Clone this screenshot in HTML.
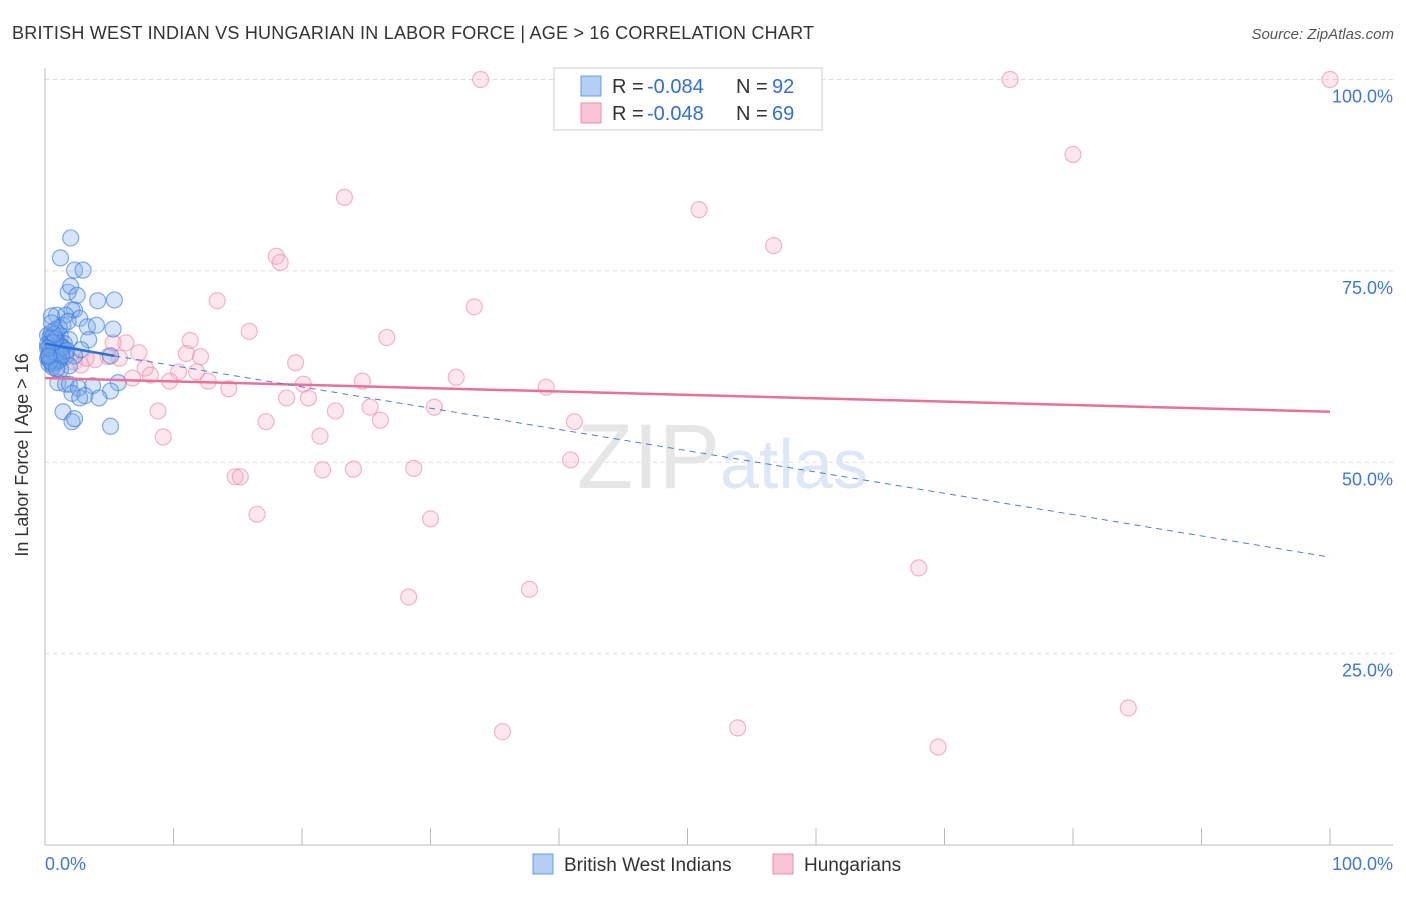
<!DOCTYPE html>
<html><head><meta charset="utf-8"><style>
body{margin:0;background:#fff;font-family:"Liberation Sans",sans-serif;}
svg text{font-family:"Liberation Sans",sans-serif;}
</style></head><body>
<svg width="1406" height="892" viewBox="0 0 1406 892">
<text x="12" y="39" font-size="18" fill="#333" textLength="802">BRITISH WEST INDIAN VS HUNGARIAN IN LABOR FORCE | AGE &gt; 16 CORRELATION CHART</text>
<text x="1394" y="39" font-size="15" fill="#555" text-anchor="end" font-style="italic">Source: ZipAtlas.com</text>
<g id="grid"></g>
<text x="720" y="488" font-size="92" fill="#e6e6e6" text-anchor="end" font-family="Liberation Serif">ZIP</text>
<text x="720" y="488" font-size="70" fill="#dde7f5">atlas</text>
<g id="marks"></g>
<text x="28" y="455" font-size="18" fill="#333" text-anchor="middle" transform="rotate(-90 28 455)">In Labor Force | Age &gt; 16</text>
<g>
<rect x="554" y="68" width="268" height="62" fill="#fff" stroke="#ccc"/>
<rect x="581" y="76" width="20" height="20" fill="#b3cff5" stroke="#6a9ee6"/>
<rect x="581" y="103" width="20" height="20" fill="#f9c3d5" stroke="#ec8fb0"/>
<text x="612" y="93" font-size="20" fill="#333">R =</text>
<text x="647" y="93" font-size="20" fill="#2f6fd6">-0.084</text>
<text x="736" y="93" font-size="20" fill="#333">N =</text>
<text x="772" y="93" font-size="20" fill="#2f6fd6">92</text>
<text x="612" y="120" font-size="20" fill="#333">R =</text>
<text x="647" y="120" font-size="20" fill="#2f6fd6">-0.048</text>
<text x="736" y="120" font-size="20" fill="#333">N =</text>
<text x="772" y="120" font-size="20" fill="#2f6fd6">69</text>
</g>
<g>
<rect x="533" y="854" width="20" height="20" fill="#b3cff5" stroke="#6a9ee6"/>
<text x="564" y="871" font-size="19" fill="#333">British West Indians</text>
<rect x="773" y="854" width="20" height="20" fill="#f9c3d5" stroke="#ec8fb0"/>
<text x="804" y="871" font-size="19" fill="#333">Hungarians</text>
</g>
</svg>
<script>
const yTicks=[25,50,75,100];
const yTickLabels=["25.0%","50.0%","75.0%","100.0%"];
const xTicks=[0,10,20,30,40,50,60,70,80,90,100];
const blueX=[2.0,1.2,2.3,2.96,1.8,2.0,2.5,4.1,5.4,2.3,2.1,0.9,1.6,2.7,0.5,1.4,3.3,4.0,5.3,0.8,1.2,3.4,1.9,0.2,0.5,1.0,0.4,1.3,0.8,1.6,2.3,5.1,0.4,0.9,1.3,0.6,1.9,1.2,1.0,1.6,1.9,3.7,5.7,2.6,5.1,2.1,3.1,2.7,4.2,1.4,2.1,2.3,5.1,0.3,0.6,1.0,0.5,0.8,1.5,0.2,0.7,1.1,0.4,0.9,0.3,1.2,0.6,0.5,0.8,0.3,1.0,0.7,0.4,0.2,0.6,1.4,0.9,0.3,0.5,1.7,0.8,0.4,1.1,0.6,0.2,1.3,0.7,0.5,0.9,0.3,2.8,1.8];
const blueY=[79.3,76.7,75.1,75.1,72.2,73.0,71.8,71.1,71.2,69.9,69.9,69.2,69.2,68.8,69.1,67.9,67.7,67.9,67.4,67.3,66.5,66.0,66.0,66.6,65.7,65.2,64.7,64.4,63.9,63.8,63.9,63.9,63.4,63.1,64.9,62.7,62.6,62.1,60.4,60.2,60.2,60.0,60.4,59.7,59.3,59.0,58.7,58.4,58.4,56.6,55.3,55.7,54.7,65.0,64.3,65.8,66.2,64.0,65.5,63.6,64.6,63.3,65.3,66.9,64.1,65.1,63.0,64.8,65.9,62.9,63.5,64.4,66.4,65.4,62.4,65.0,64.2,63.7,67.0,64.6,66.1,63.2,67.6,65.6,64.9,63.9,66.7,68.2,62.2,63.9,64.7,68.4];
const pinkX=[33.9,75.1,100,80.0,23.3,50.9,56.7,18.0,18.3,13.4,33.4,15.9,26.6,11.3,6.3,5.3,11.0,12.1,7.3,5.8,4.9,3.9,2.3,19.5,7.8,10.4,11.8,8.2,6.8,9.7,12.7,32.0,24.7,39.0,20.1,14.3,20.5,18.8,8.8,22.6,25.3,30.3,26.1,17.2,41.2,21.4,9.2,40.9,28.7,21.6,24.0,14.8,15.2,16.5,30.0,68.0,37.7,28.3,84.3,35.6,53.9,69.5,0.8,1.6,1.2,0.5,2.8,1.0,3.2];
const pinkY=[100,100,100,90.2,84.6,83.0,78.3,76.9,76.1,71.1,70.3,67.1,66.3,65.9,65.6,65.6,64.2,63.8,64.3,63.6,63.8,63.4,63.1,63.0,62.3,61.8,61.8,61.4,61.0,60.6,60.6,61.1,60.6,59.8,60.2,59.6,58.4,58.4,56.7,56.7,57.2,57.2,55.5,55.3,55.3,53.4,53.3,50.3,49.2,49.0,49.1,48.1,48.1,43.2,42.6,36.2,33.4,32.4,17.9,14.8,15.3,12.8,64.7,64.0,65.3,63.0,62.7,62.2,63.6];
const blueFitX=[0,5.4,100];
const blueFitY=[65.5,63.9,37.6];
const pinkFitX=[0,100];
const pinkFitY=[61.0,56.6];
const NS="http://www.w3.org/2000/svg";
const X=v=>45+v*12.85, Y=v=>845-v*7.655;
function mk(t,a,p){const e=document.createElementNS(NS,t);for(const k in a)e.setAttribute(k,a[k]);p.appendChild(e);return e;}
const grid=document.getElementById('grid'), marks=document.getElementById('marks');
yTicks.forEach((t,i)=>{
 const l=mk('line',{x1:45,x2:1393,y1:Y(t),y2:Y(t),stroke:'#ddd','stroke-dasharray':'4,4'},grid);
 
 
 const tx=mk('text',{x:1393,y:Y(t)+23,'font-size':18,fill:'#3d78d8','text-anchor':'end'},grid);
 tx.textContent=yTickLabels[i];
 
 
});
const ax=mk('line',{x1:45,x2:45,y1:68,y2:845,stroke:'#bbb'},grid);


const bx=mk('line',{x1:45,x2:1393,y1:845,y2:845,stroke:'#bbb'},grid);


xTicks.forEach(t=>{const l=mk('line',{x1:X(t),x2:X(t),y1:828,y2:845,stroke:'#bbb'},grid);
 
 });
[["0.0%",45,'start'],["100.0%",1393,'end']].forEach(a=>{const t=mk('text',{x:a[1],y:870,'font-size':18,fill:'#3d78d8','text-anchor':a[2]},grid);t.textContent=a[0];
 
 });
pinkX.forEach((v,i)=>{const c=mk('circle',{cx:X(v),cy:Y(pinkY[i]),r:8,fill:'rgba(246,175,200,0.3)',stroke:'rgba(235,135,170,0.6)','stroke-width':1.2},marks);
 
 });
blueX.forEach((v,i)=>{const c=mk('circle',{cx:X(v),cy:Y(blueY[i]),r:8,fill:'rgba(120,170,235,0.3)',stroke:'rgba(60,120,215,0.6)','stroke-width':1.2},marks);
 
 });
const pl=mk('line',{x1:X(pinkFitX[0]),y1:Y(pinkFitY[0]),x2:X(pinkFitX[1]),y2:Y(pinkFitY[1]),stroke:'#e8719a','stroke-width':2.5},marks);


const bl=mk('line',{x1:X(blueFitX[0]),y1:Y(blueFitY[0]),x2:X(blueFitX[1]),y2:Y(blueFitY[1]),stroke:'#2f6fd6','stroke-width':2.5},marks);


const bd=mk('line',{x1:X(blueFitX[1]),y1:Y(blueFitY[1]),x2:X(blueFitX[2]),y2:Y(blueFitY[2]),stroke:'#4a80d8','stroke-width':1,'stroke-dasharray':'6,5'},marks);


</script>
</body></html>
